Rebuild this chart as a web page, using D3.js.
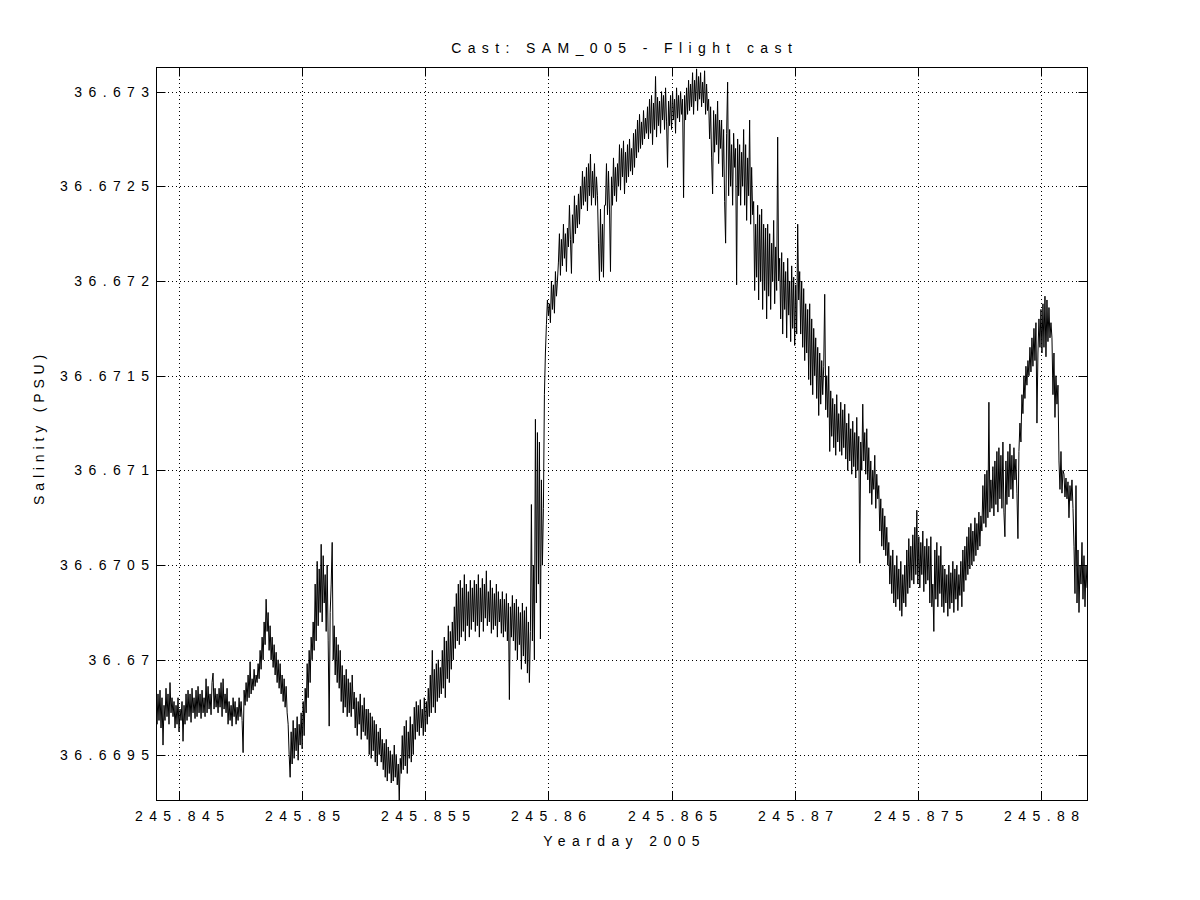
<!DOCTYPE html>
<html><head><meta charset="utf-8">
<script src="https://cdn.jsdelivr.net/npm/d3@7"></script>
<style>
body{margin:0;background:#fff}
svg text{font-family:"Liberation Sans",Arial,sans-serif;font-size:14px;fill:#000;letter-spacing:6.4px}
</style>
</head><body><svg id="chart" width="1200" height="900"></svg>
<script>
const titleText = "Cast: SAM_005 - Flight cast";
const xLabelText = "Yearday 2005";
const yLabelText = "Salinity (PSU)";
const xTicks = [245.845, 245.85, 245.855, 245.86, 245.865, 245.87, 245.875, 245.88];
const xTickLabels = ["245.845", "245.85", "245.855", "245.86", "245.865", "245.87", "245.875", "245.88"];
const yTicks = [36.6695, 36.67, 36.6705, 36.671, 36.6715, 36.672, 36.6725, 36.673];
const yTickLabels = ["36.6695", "36.67", "36.6705", "36.671", "36.6715", "36.672", "36.6725", "36.673"];
const yeardayStart = 245.844053, yeardayEnd = 245.881881;
const salinityMin = 36.66926, salinityMax = 36.67313;
// salinity samples (PSU), evenly spaced in time from yeardayStart to yeardayEnd
const salinity = [
36.66978,36.66966,36.66982,36.66968,36.66984,36.66964,36.6698,36.66955,36.66976,36.66968,36.66985,36.6697,36.66982,36.66966,36.66988,36.66972,36.6698,
36.6697,36.66978,36.66964,36.66976,36.66966,36.6698,36.66962,36.66974,36.66968,36.66978,36.66957,36.66976,36.66966,36.66982,36.66968,
36.66984,36.6697,36.66982,36.66967,36.66985,36.66972,36.6698,36.66969,36.66984,36.6697,36.66986,36.66972,36.66982,
36.66969,36.66984,36.66972,36.6698,36.6697,36.6699,36.66972,36.66986,36.66974,36.66982,36.66971,36.66988,36.66993,36.66974,36.66985,36.66975,36.66982,
36.66972,36.66985,36.66975,36.66988,36.6697,36.6699,36.66974,36.66982,36.66972,36.66985,
36.66966,36.66978,36.66968,36.66976,36.66965,36.6698,36.6697,36.66978,36.66966,36.66975,36.66968,36.6698,36.6697,
36.66978,36.66968,36.66951,36.66984,36.66976,36.66988,36.66978,36.66992,36.6698,36.66999,36.66982,36.6699,36.66984,36.66995,36.66986,36.66992,36.66988,
36.66998,36.6699,36.67005,36.66995,36.67012,36.67,36.6702,36.67008,36.67032,36.67015,36.67025,36.67005,36.67018,
36.67,36.67012,36.66996,36.67008,36.66992,36.67004,36.66988,36.67,36.66985,36.66998,36.66982,36.66992,36.66978,36.6699,36.66975,36.66986,36.66972,
36.66966,36.6695,36.66938,36.66962,36.66945,36.66968,36.66948,36.66964,36.66952,36.6697,36.66947,36.66966,36.66955,36.66972,36.66953,36.66978,
36.6696,36.66985,36.66972,36.66998,36.6698,36.67005,36.66988,36.67012,36.67,36.6702,
36.67005,36.6704,36.6701,36.67052,36.67018,36.67048,36.67025,36.67061,36.6702,36.67055,36.6703,36.67045,36.67015,36.6705,36.6701,36.66965,36.67025,36.6704,36.67062,
36.67,36.67018,36.66992,36.67012,36.66988,36.67008,36.66985,36.67005,
36.66978,36.66997,36.66972,36.66992,36.66975,36.66995,36.6697,36.6699,36.66972,36.66988,36.6697,36.66992,36.66974,
36.66983,36.66964,36.6698,36.6696,36.66978,36.66966,36.66982,36.66958,36.66976,36.66962,36.6698,36.6696,36.66974,36.66958,
36.66974,36.6695,36.66972,36.66948,36.6697,36.66952,36.66968,36.66946,36.66966,36.66944,36.66962,36.6695,36.66964,36.66946,36.66958,36.66942,
36.66956,36.66938,36.66958,36.66936,36.66954,36.6694,36.66952,36.66935,36.6695,36.66936,36.66955,36.66938,36.6695,36.66934,36.66945,36.66926,36.66948,
36.6694,36.6696,36.66942,36.66965,36.66944,36.66968,36.6694,36.66962,36.66948,36.6697,36.66946,36.66966,36.6695,
36.66975,36.66958,36.66978,36.66962,36.66976,36.6696,36.66979,36.66964,36.66974,36.6696,36.6698,36.66962,36.66978,36.66966,
36.66985,36.6697,36.66992,36.66972,36.67005,36.66975,36.66995,36.66972,36.66998,36.66978,36.67,36.6698,36.66996,
36.66982,36.67005,36.66985,36.67012,36.6698,36.6701,36.6699,36.67018,36.66988,36.67015,36.66995,36.6702,36.67,
36.67028,36.67006,36.67035,36.6701,36.6704,36.67008,36.67042,36.67012,36.67038,36.67015,36.67045,36.6701,36.6704,36.67018,36.67036,36.67012,36.67042,36.67016,36.67038,36.6702,
36.67042,36.67015,36.6704,36.67018,36.67045,36.67012,36.67038,36.6702,36.67043,36.67015,36.6704,36.67022,36.67047,36.67018,36.67036,36.6702,36.67042,36.67014,36.67038,36.67016,36.67035,36.67018,36.6704,36.67012,36.67036,36.6702,36.67032,
36.67014,36.67036,36.67012,36.67032,36.67015,36.67035,36.6701,36.6703,36.66979,36.67028,36.67012,36.67034,36.6701,
36.6703,36.67005,36.67032,36.67,36.67028,36.67008,36.67025,36.66995,36.6703,36.67002,36.67026,36.66998,36.67028,36.66993,36.6702,36.66988,36.67015,
36.67082,36.6701,36.6705,36.67,36.67127,36.6703,36.6712,36.6704,36.67115,36.67011,36.67095,36.6705,36.6708,36.6714,36.67162,
36.67177,36.6719,36.67182,36.67188,36.67178,36.672,36.67185,36.67198,36.67183,36.67205,36.67192,36.672,
36.6721,36.67225,36.67203,36.67222,36.67208,36.6723,36.67212,36.67225,36.67205,36.67228,
36.67218,36.6724,36.67222,36.67204,36.67235,36.6722,36.67245,36.67225,36.6724,36.67228,36.67246,36.6723,36.6725,
36.67238,36.67258,36.6724,36.67255,36.67242,36.6726,36.67237,36.67262,36.67245,36.67267,36.6724,36.67258,36.67244,36.67262,36.6724,36.67255,36.67245,
36.6722,36.672,36.67238,36.67205,36.6723,36.67202,36.6724,
36.6724,36.67262,36.67235,36.67258,36.67238,36.67205,36.67255,36.6724,36.67265,36.67245,36.6726,36.67242,36.67262,
36.6725,36.67272,36.67248,36.6727,36.67255,36.67274,36.67246,36.67268,36.67252,36.67272,36.67255,36.67275,36.67258,36.6727,36.67256,36.67278,36.6726,
36.6728,36.67265,36.67285,36.67268,36.67288,36.6727,36.67284,36.67272,36.6729,36.67275,36.67286,36.67278,36.67292,
36.67275,36.67296,36.67278,36.67298,36.67272,36.67294,36.6728,36.67308,36.67276,36.67297,36.67282,36.67295,36.67278,36.673,36.67285,36.67298,36.6728,36.67302,36.67284,36.6726,
36.67295,36.67282,36.67298,36.6728,36.673,36.67285,36.67296,36.67278,36.67302,36.67286,36.67298,36.67284,36.673,36.67288,36.67296,36.67244,36.67298,36.67285,36.67302,36.67288,
36.67306,36.6729,36.67304,36.67292,36.6731,36.67288,36.67306,36.67295,36.67312,36.6729,36.67308,36.67296,36.6731,36.67292,36.67305,36.67294,36.67311,36.67288,36.67304,36.6729,
36.67296,36.67275,36.67292,36.67265,36.67246,36.6729,36.67268,36.67288,36.67272,36.67295,36.67262,36.67285,36.6727,
36.67285,36.67255,36.6728,36.67242,36.6722,36.67278,36.67305,36.67245,36.6728,36.6725,36.67272,36.6724,36.67278,36.6726,36.6727,36.67198,36.67275,36.67245,36.67272,36.6724,36.67268,36.6725,
36.6728,36.6724,36.67272,36.67232,36.67265,36.67245,36.67285,36.6723,36.6726,36.67235,36.67242,36.67195,36.6723,36.67202,36.6724,36.6719,36.67235,36.672,36.67238,36.67185,36.6723,36.67195,
36.67228,36.6718,36.6723,36.67192,36.67225,36.67185,36.6722,36.672,36.67232,36.67188,36.67218,36.67195,36.67276,36.672,
36.67212,36.6718,36.67215,36.67172,36.6721,36.67185,36.67205,36.6717,36.67212,36.67182,36.672,36.67168,36.67208,36.67175,36.67202,36.67166,36.67198,36.67172,
36.6723,36.6719,36.67205,36.67172,36.672,36.67165,36.67196,36.67158,36.67188,36.67162,
36.67185,36.67148,36.67188,36.67145,36.6718,36.6714,36.67175,36.6715,36.6717,36.67138,36.67165,
36.67129,36.67162,36.67135,36.67158,36.6714,36.67155,36.67193,36.67132,36.6715,36.67128,36.67155,36.6711,36.67142,36.67118,
36.67138,36.67112,36.67135,36.67108,36.6714,36.67115,36.6713,36.6711,36.67136,36.67108,36.67132,36.67112,36.67135,36.67106,
36.67125,36.671,36.6713,36.67105,36.67122,36.67098,36.67126,36.67102,36.6712,36.67096,36.67128,36.671,36.67118,36.67051,36.67115,36.671,36.67135,36.67105,36.6712,36.67098,36.67122,36.67095,
36.67112,36.67088,36.67105,36.67082,36.671,36.6709,36.67108,36.6708,36.67098,36.67085,
36.67092,36.67068,36.67085,36.6706,36.6708,36.67058,36.67076,36.67055,36.6707,36.6705,
36.67062,36.6704,36.67055,36.67035,36.67058,36.6703,36.6705,36.67028,36.67055,36.67032,36.67048,36.67026,36.67052,36.67023,36.67045,36.6703,36.6705,36.67028,36.67058,36.67035,
36.67064,36.67038,36.6706,36.67042,36.67066,36.6704,36.6707,36.67045,36.67079,36.6704,36.67065,36.67038,36.67062,36.67045,36.67068,36.67036,36.6706,36.6704,36.67064,36.67042,
36.6706,36.6703,36.67065,36.67028,36.6704,36.67015,36.67058,36.67032,36.67062,36.67028,36.67055,36.67035,36.6706,
36.67028,36.6705,36.67025,36.67048,36.6703,36.67045,36.67023,36.6705,36.67027,36.67046,36.6703,36.67052,36.67025,36.67048,36.67032,36.6705,36.67026,36.67045,36.67034,36.67052,36.67028,36.67058,36.67036,
36.6706,36.67042,36.67065,36.67045,36.6707,36.67048,36.67072,36.6705,36.67068,36.67052,36.67075,36.67055,36.67072,36.67058,36.67078,36.6706,36.67076,
36.67068,36.67092,36.67072,36.67098,36.6707,36.671,36.67075,36.67136,36.67078,36.67095,36.6708,36.67102,36.67076,
36.67105,36.67082,36.6711,36.67078,36.67112,36.67085,36.67108,36.6708,36.67115,36.67078,36.67065,36.67105,36.67082,36.6711,36.67086,36.67114,36.6709,36.67108,36.67085,36.67112,36.67095,36.67106,36.67088,36.67064,
36.6711,36.67125,36.67115,36.6714,36.6713,36.6715,36.67138,36.67155,36.67145,36.67158,
36.6715,36.67165,36.67152,36.6717,36.67155,36.67175,36.67158,36.67178,36.67125,36.67162,36.6718,36.67165,36.67185,
36.67162,36.67188,36.67165,36.67192,36.6716,36.6719,36.67168,36.67186,36.6717,36.67178,
36.6717,36.6714,36.67162,36.67128,36.6715,36.67135,36.67145,
36.67105,36.6709,36.6711,36.67088,36.671,
36.67098,36.67086,36.67096,36.67085,36.67094,36.67075,36.67092,36.67084,36.67095,36.6708,
36.6706,36.67035,36.67092,36.6703,36.67058,36.67025,36.6705,36.6704,36.67062,36.67032,36.67055,36.67028,36.6705,36.67038
];

const W = 1200, H = 900;
const plot = {left: 156, top: 67, right: 1087, bottom: 800};
const svg = d3.select("#chart");
svg.append("rect").attr("width", W).attr("height", H).attr("fill", "#fff");

const x = d3.scaleLinear().domain([yeardayStart, yeardayEnd]).range([plot.left, plot.right]);
const y = d3.scaleLinear().domain([salinityMin, salinityMax]).range([plot.bottom, plot.top]);
const n = salinity.length;
const tAt = i => yeardayStart + (yeardayEnd - yeardayStart) * i / (n - 1);

// grid
const grid = svg.append("g").attr("stroke", "#000").attr("stroke-width", 1).attr("stroke-dasharray", "1,3");
grid.selectAll("line.gx").data(xTicks).join("line").attr("class","gx")
  .attr("x1", d => Math.round(x(d)) + 0.5).attr("x2", d => Math.round(x(d)) + 0.5)
  .attr("y1", plot.top).attr("y2", plot.bottom);
grid.selectAll("line.gy").data(yTicks).join("line").attr("class","gy")
  .attr("y1", d => Math.round(y(d)) + 0.5).attr("y2", d => Math.round(y(d)) + 0.5)
  .attr("x1", plot.left).attr("x2", plot.right);

// data line
svg.append("clipPath").attr("id", "clip").append("rect")
  .attr("x", plot.left).attr("y", plot.top).attr("width", plot.right - plot.left).attr("height", plot.bottom - plot.top);
const line = d3.line().x((d, i) => x(tAt(i))).y(d => y(d));
svg.append("path").datum(salinity).attr("clip-path", "url(#clip)")
  .attr("fill", "none").attr("stroke", "#000").attr("stroke-width", 1).attr("d", line);

// axes
const ls = 6.4;
const gB = svg.append("g").attr("transform", `translate(0.5,${plot.bottom + 0.5})`)
  .call(d3.axisBottom(x).tickValues(xTicks).tickFormat((d, i) => xTickLabels[i]).tickSizeInner(-9).tickSizeOuter(0).tickPadding(11));
gB.selectAll("text").attr("dx", ls / 2);
const gT = svg.append("g").attr("transform", `translate(0.5,${plot.top + 0.5})`)
  .call(d3.axisTop(x).tickValues(xTicks).tickFormat("").tickSizeInner(-9).tickSizeOuter(0));
const gL = svg.append("g").attr("transform", `translate(${plot.left + 0.5},0.5)`)
  .call(d3.axisLeft(y).tickValues(yTicks).tickFormat((d, i) => yTickLabels[i]).tickSizeInner(-9).tickSizeOuter(0).tickPadding(1));
const gR = svg.append("g").attr("transform", `translate(${plot.right + 0.5},0.5)`)
  .call(d3.axisRight(y).tickValues(yTicks).tickFormat("").tickSizeInner(-9).tickSizeOuter(0));
[gB, gT, gL, gR].forEach(g => {
  g.select(".domain").remove();
  g.selectAll("line").attr("stroke", "#000");
  g.selectAll("text").style("font-family", '"Liberation Sans",Arial,sans-serif').style("font-size", "14px").attr("fill", "#000");
});
gB.selectAll(".tick").attr("transform", d => `translate(${Math.round(x(d))},0)`);
gT.selectAll(".tick").attr("transform", d => `translate(${Math.round(x(d))},0)`);
gL.selectAll(".tick").attr("transform", d => `translate(0,${Math.round(y(d))})`);
gR.selectAll(".tick").attr("transform", d => `translate(0,${Math.round(y(d))})`);

// frame
svg.append("rect").attr("x", plot.left + 0.5).attr("y", plot.top + 0.5)
  .attr("width", plot.right - plot.left).attr("height", plot.bottom - plot.top)
  .attr("fill", "none").attr("stroke", "#000").attr("stroke-width", 1);

// titles
const cx = (plot.left + plot.right) / 2;
svg.append("text").attr("x", cx + ls / 2).attr("y", 53).attr("text-anchor", "middle").text(titleText);
svg.append("text").attr("x", cx + ls / 2).attr("y", 846).attr("text-anchor", "middle").text(xLabelText);
const yls = 4.85;
svg.append("text").attr("transform", `translate(44,${425 + yls / 2}) rotate(-90)`)
  .attr("text-anchor", "middle").style("letter-spacing", yls + "px").text(yLabelText);
</script>
</body></html>
